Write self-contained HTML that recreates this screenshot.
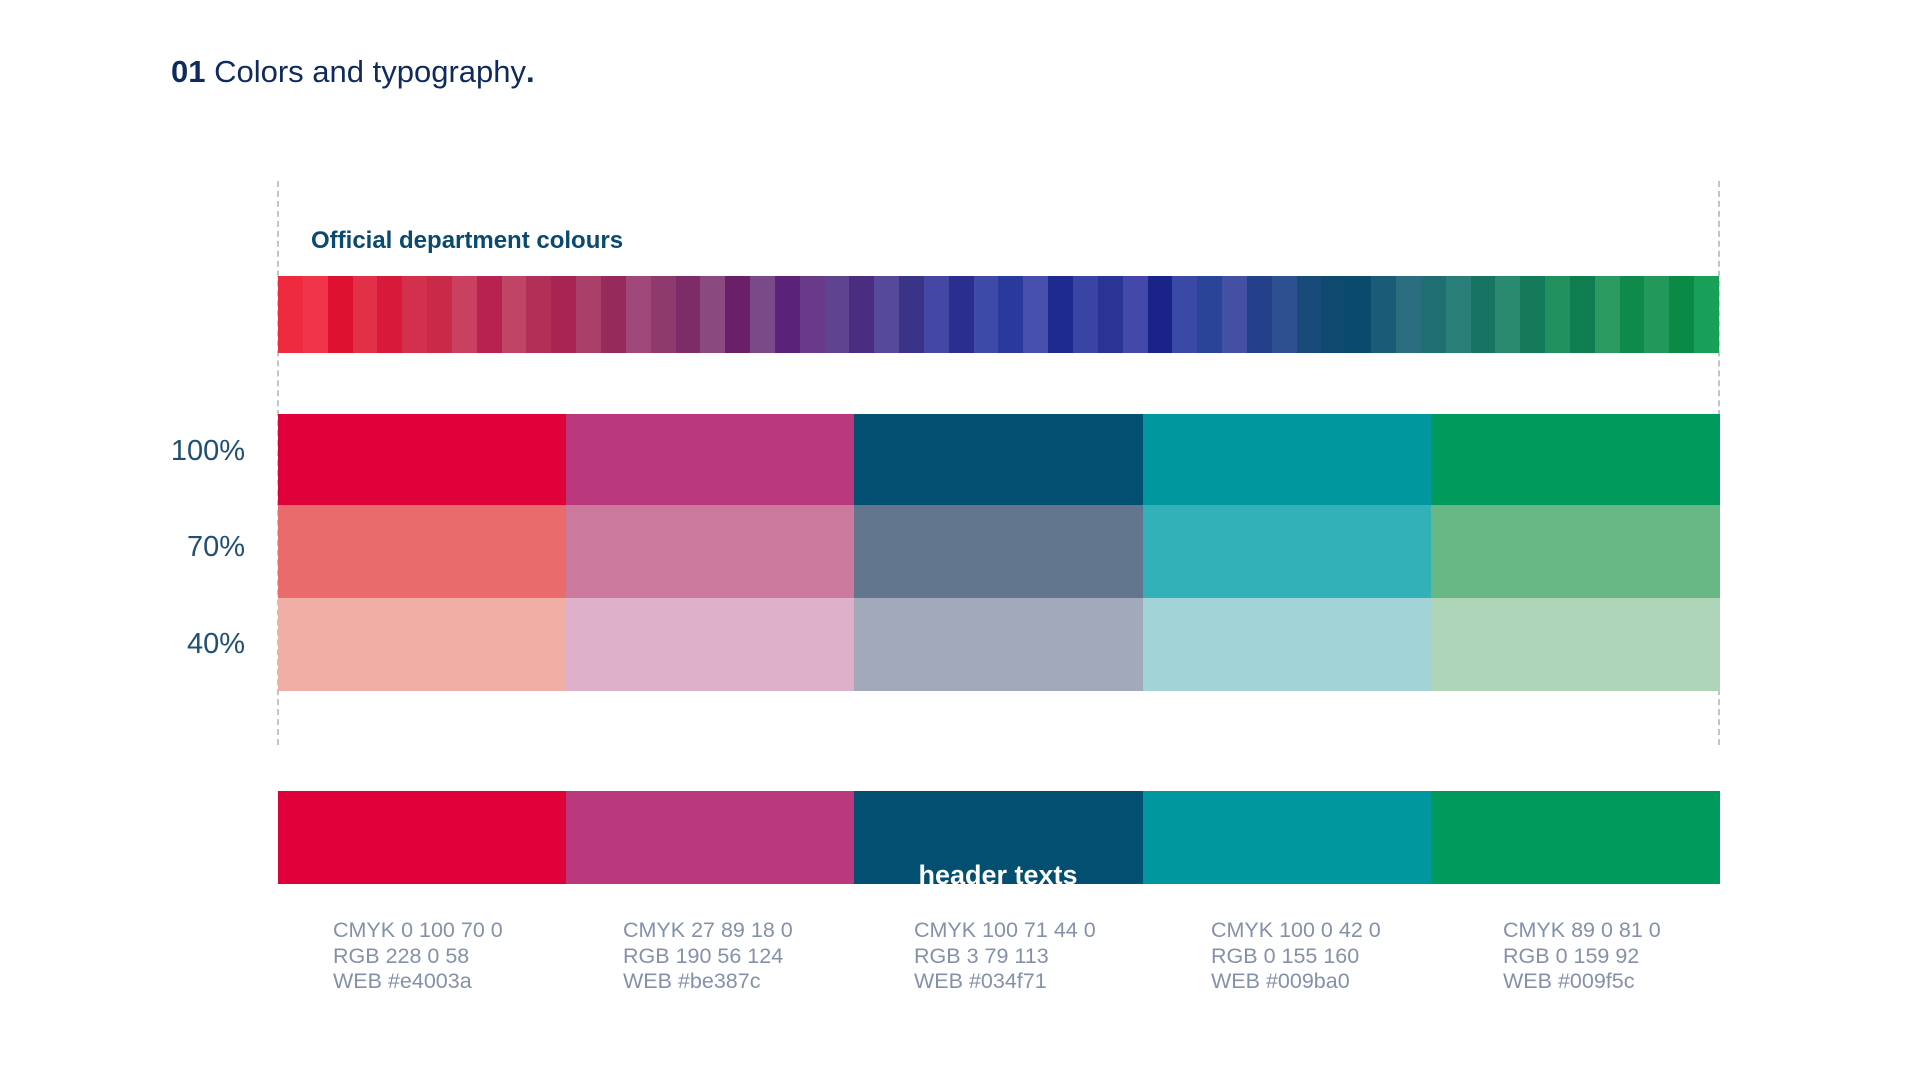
<!DOCTYPE html>
<html><head><meta charset="utf-8">
<style>
body{margin:0;background:#fff;width:1920px;height:1077px;overflow:hidden;position:relative;font-family:"Liberation Sans",sans-serif}
.abs{position:absolute}
.dash{position:absolute;width:0;border-left:2px dashed #c4c4c4;top:181px;height:564px}
.lbl{position:absolute;right:1675px;font-size:29px;color:#1f4f73;line-height:1}
.info{position:absolute;top:918px;font-size:21.5px;line-height:25.7px;color:#8591a8}
</style></head><body>
<div class="abs" style="left:171px;top:54px;font-size:31px;color:#0f2a5c"><b style="font-weight:900">01</b> Colors and typography<b>.</b></div>
<div class="dash" style="left:277px"></div>
<div class="dash" style="left:1718px"></div>
<div class="abs" style="left:311px;top:227px;font-size:24px;font-weight:bold;color:#0a4a6e">Official department colours</div>
<div class="abs" id="grad" style="left:278px;top:276px;width:1441px;height:77px;display:flex"></div>
<div class="lbl" style="top:437px">100%</div>
<div class="lbl" style="top:533px">70%</div>
<div class="lbl" style="top:630px">40%</div>
<div id="grid" class="abs" style="left:278px;top:414px;width:1441px;height:277px"></div>
<div id="bottom" class="abs" style="left:278px;top:791px;width:1441px;height:93px"></div>
<div class="abs" style="left:998px;top:860px;transform:translateX(-50%);font-size:27px;font-weight:bold;color:#fff;white-space:nowrap">header texts</div>
<div id="infos"></div>
<script>
const stripes=["#ee2a3e","#f0344a","#de1230","#e23048","#d81a3a","#d2304c","#c82a48","#c94060","#b82250","#c04466","#b23058","#a82452","#a8406a","#962a5a","#a0487a","#8e3a6c","#7e2c68","#8a4a80","#6a2068","#7a4a88","#5a2278","#6a3a8a","#5e4490","#4a2c80","#56489a","#3a3488","#4448a4","#2a2e8e","#3e4aa8","#2a3a9c","#4650ac","#1e2a90","#3a44a4","#2a3494","#4448a8","#1a2488","#3a48a6","#2a4498","#4450a4","#24408a","#2c5090","#184a7a","#0e4a70","#0a4a6c","#1a5c78","#2a6e80","#1e6e72","#2a8078","#187462","#2a8a70","#147a5a","#20905e","#0e7e50","#2a9a60","#0e8a4a","#22985a","#0a8a44","#18a058"];
const grad=document.getElementById('grad');
stripes.forEach(c=>{const s=document.createElement('div');


s.style.flex='1';s.style.background=c;grad.appendChild(s);});
const full=["#e0003a","#ba387c","#034f71","#00989f","#009a5c"];
const t70=["#e96b6b","#cb7a9e","#62778e","#32b2b8","#68b886"];
const t40=["#f0aea4","#dfb0c9","#a2a9ba","#a1d3d7","#afd5b8"];
const rows=[full,t70,t40];const rowH=[91,93,93];
const colW=288.2;
const grid=document.getElementById('grid');let y=0;
rows.forEach((r,ri)=>{r.forEach((c,ci)=>{const d=document.createElement('div');


d.style.cssText=`position:absolute;left:${ci*colW}px;top:${y}px;width:${colW+1}px;height:${rowH[ri]}px;background:${c}`;grid.appendChild(d);});y+=rowH[ri];});
const bottom=document.getElementById('bottom');
full.forEach((c,ci)=>{const d=document.createElement('div');


d.style.cssText=`position:absolute;left:${ci*colW}px;top:0;width:${colW+1}px;height:93px;background:${c}`;bottom.appendChild(d);});
const cmyk=["CMYK 0 100 70 0","CMYK 27 89 18 0","CMYK 100 71 44 0","CMYK 100 0 42 0","CMYK 89 0 81 0"];
const rgb=["RGB 228 0 58","RGB 190 56 124","RGB 3 79 113","RGB 0 155 160","RGB 0 159 92"];
const web=["WEB #e4003a","WEB #be387c","WEB #034f71","WEB #009ba0","WEB #009f5c"];
const xs=[333,623,914,1211,1503];
const infos=document.getElementById('infos');
cmyk.forEach((c,i)=>{const d=document.createElement('div');


d.className='info';d.style.left=xs[i]+'px';d.innerHTML=c+'<br>'+rgb[i]+'<br>'+web[i];infos.appendChild(d);});
</script>
</body></html>
